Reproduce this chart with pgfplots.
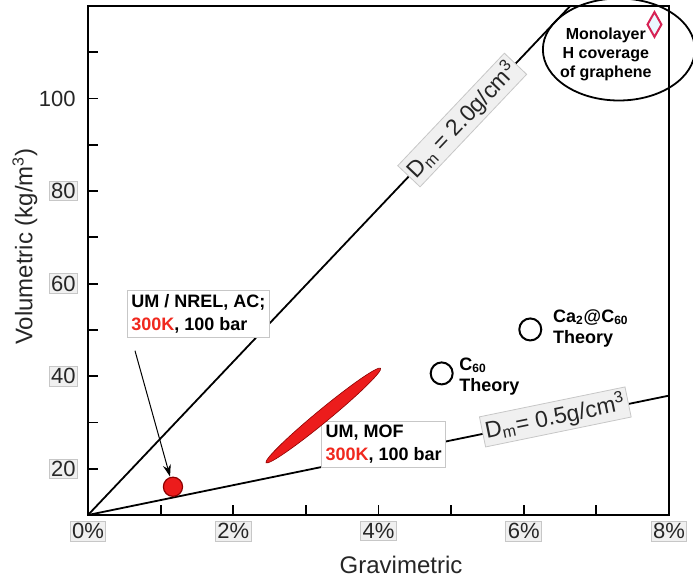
\documentclass[border=0pt]{standalone}
\usepackage{pgfplots}
\pgfplotsset{compat=1.18}
\usepackage{fontspec}
\setmainfont{Liberation Sans}
\usetikzlibrary{arrows.meta}

\definecolor{tickbox}{gray}{0.94}
\definecolor{tickborder}{gray}{0.78}
\definecolor{mofred}{RGB}{236,28,28}
\definecolor{darkred}{RGB}{140,0,0}
\definecolor{dcrim}{RGB}{215,35,85}
\definecolor{hotred}{RGB}{240,40,30}

\begin{document}
\begin{tikzpicture}
\begin{axis}[
  scale only axis, width=290.5pt, height=254.5pt,
  xmin=0, xmax=8, ymin=10, ymax=120,
  clip=false,
  axis line style={line width=1.3pt},
  tick style={line width=0.9pt, black},
  major tick length=5pt, minor tick length=5pt,
  tick align=inside, tick pos=left,
  xtick={0,2,4,6,8}, xticklabels={0\%,2\%,4\%,6\%,8\%},
  minor xtick={1,3,5,7},
  ytick={20,40,60,80}, minor ytick={30,50,70,90,110},
  extra y ticks={100},
  extra y tick style={yticklabel style={fill=none, draw=none}},
  /pgf/number format/assume math mode=true,
  ticklabel style={font=\fontsize{11}{13}\selectfont, fill=tickbox, draw=tickborder, line width=0.4pt, inner sep=1pt, text=black!85},
  xticklabel style={yshift=-3pt},
  yticklabel style={xshift=-5pt},
]
\coordinate (BL) at (rel axis cs:0,0);
\coordinate (TR) at (rel axis cs:1,1);

% density lines
\addplot[black, line width=0.9pt] coordinates {(0,10) (6.64,120)}
  node[pos=0.776, sloped, fill=tickbox, draw=tickborder, line width=0.4pt, inner sep=1.5pt, font=\fontsize{11.5}{13}\selectfont, text=black!85] {D\textsubscript{m} = 2.0g/cm\textsuperscript{3}};
\addplot[black, line width=0.9pt] coordinates {(0,10) (8,35.8)}
  node[pos=0.805, sloped, yshift=1pt, fill=tickbox, draw=tickborder, line width=0.4pt, inner sep=1.5pt, font=\fontsize{11.5}{13}\selectfont, text=black!85] {D\textsubscript{m}= 0.5g/cm\textsuperscript{3}};

% MOF region
\addplot[only marks, mark=*, mark size=3.2pt,
  mark options={fill=mofred, draw=darkred, line width=0.3pt, rotate=39.5, xscale=11.6}]
  coordinates {(3.24,31.5)};
% activated carbon
\addplot[only marks, mark=*, mark size=4.8pt,
  mark options={fill=mofred, draw=darkred, line width=0.6pt}]
  coordinates {(1.17,16.1)};
% theory points
\addplot[only marks, mark=o, mark size=5.5pt,
  mark options={draw=black, line width=1pt}]
  coordinates {(4.87,40.6) (6.09,50.1)};
% monolayer graphene
\addplot[only marks, mark=diamond*, mark size=6.2pt,
  mark options={fill=cyan!8, draw=dcrim, line width=1pt, xscale=0.75}]
  coordinates {(7.8,116)};

% annotations
\draw[-{Stealth[length=6pt,width=4pt]}, line width=0.5pt] (axis cs:0.647,45.5) -- (axis cs:1.13,18.3);
\node[anchor=west, draw=tickborder, fill=white, line width=0.4pt, align=left, inner xsep=2pt, inner ysep=2pt,
  font=\fontsize{9}{11.5}\selectfont\bfseries] at (axis cs:0.537,53.5)
  {UM / NREL, AC;\\\textcolor{hotred}{300K}, 100 bar};
\node[anchor=west, draw=tickborder, fill=white, line width=0.4pt, align=left, inner xsep=2pt, inner ysep=2pt,
  font=\fontsize{9}{11.5}\selectfont\bfseries] at (axis cs:3.21,25.3)
  {UM, MOF\\\textcolor{hotred}{300K}, 100 bar};
\node[anchor=west, align=left, inner sep=1pt, font=\fontsize{9}{10.5}\selectfont\bfseries] at (axis cs:5.08,39.9)
  {C\textsubscript{60}\\Theory};
\node[anchor=west, align=left, inner sep=1pt, font=\fontsize{9}{10.5}\selectfont\bfseries] at (axis cs:6.37,50.3)
  {Ca\textsubscript{2}@C\textsubscript{60}\\Theory};
\node[align=center, inner sep=1pt, font=\fontsize{8}{9.5}\selectfont\bfseries] at (axis cs:7.13,109.5)
  {Monolayer\\H coverage\\of graphene};
\draw[line width=0.9pt] (axis cs:7.31,110.6) ellipse [x radius=38pt, y radius=25.5pt];

% axis labels
\node[font=\fontsize{12}{14}\selectfont, text=black!85] at ([yshift=-25pt]axis cs:4.31,10) {Gravimetric};
\node[rotate=90, font=\fontsize{12}{14}\selectfont, text=black!85] at ([xshift=-31.5pt]axis cs:0,68.0) {Volumetric (kg/m\textsuperscript{3})};
\end{axis}
\pgfresetboundingbox
\path ([xshift=-44pt,yshift=-34.5pt]BL) rectangle ([xshift=12pt,yshift=3pt]TR);
\end{tikzpicture}
\end{document}
